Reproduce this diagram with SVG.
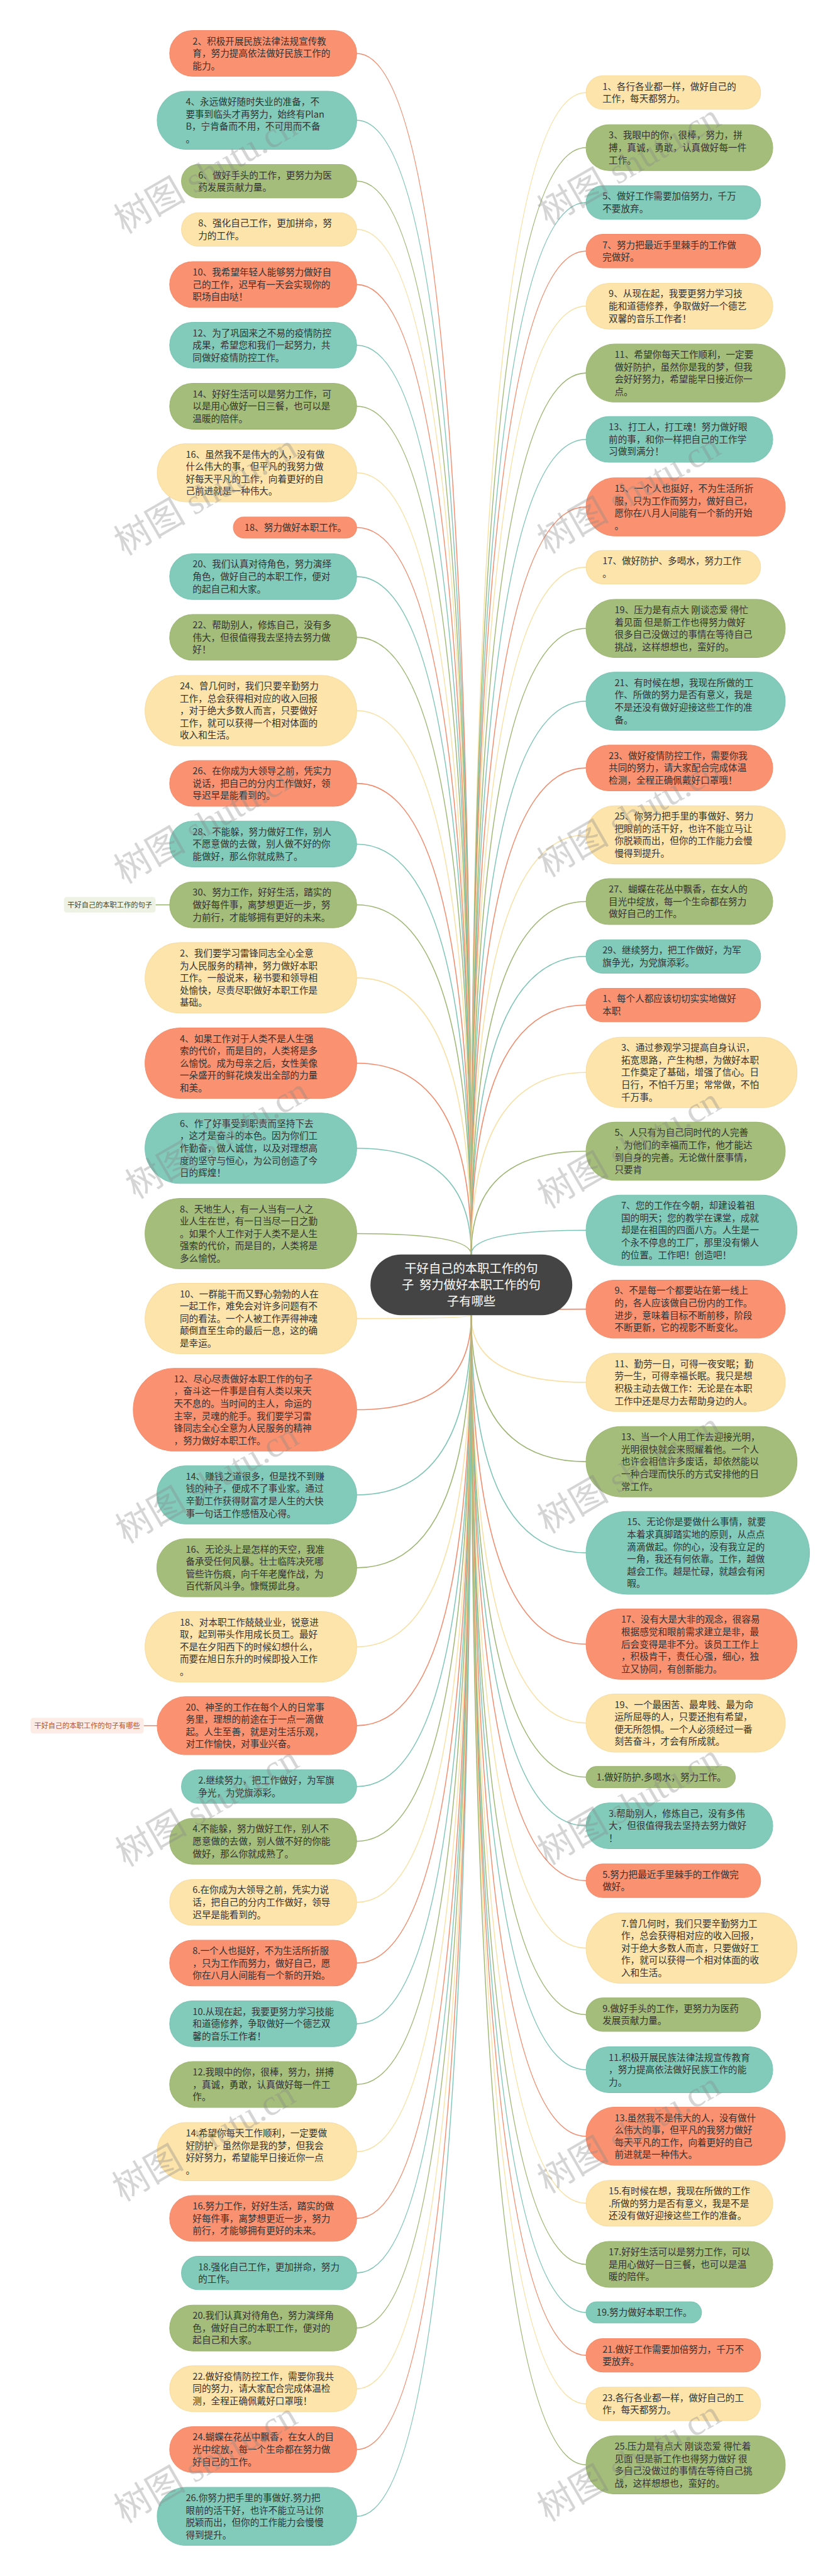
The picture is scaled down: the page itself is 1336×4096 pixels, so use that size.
<svg xmlns="http://www.w3.org/2000/svg" width="1336" height="4096" viewBox="0 0 1336 4096">
<style>
.t{font-family:"Noto Sans CJK SC","Noto Sans",sans-serif;font-size:28px;fill:#333}
.o{fill:#FA9271;stroke:#F3896A;stroke-width:2}
.e{fill:#82CBBB;stroke:#79C3B3;stroke-width:2}
.g{fill:#A5BD7B;stroke:#9CB572;stroke-width:2}
.y{fill:#FDE4AB;stroke:#F8DCA0;stroke-width:2}
#conn path{fill:none;stroke-width:3}
.co{stroke:#F2896A}.ce{stroke:#7CC4B5}.cg{stroke:#9DB672}.cy{stroke:#F9DFA2}
.wm{font-family:"Liberation Serif","Noto Sans CJK SC",serif;font-size:110px;fill:#888;opacity:0.35}
</style>
<rect width="1336" height="4096" fill="#fff"/>
<g transform="scale(0.5219)">
<g id="conn">
<path class="co" d="M1436 3822Q1436 162.75 1087 162.75"/>
<path class="ce" d="M1436 3822Q1436 366.5 1087 366.5"/>
<path class="cg" d="M1436 3822Q1436 552 1087 552"/>
<path class="cy" d="M1436 3822Q1436 699 1087 699"/>
<path class="co" d="M1436 3822Q1436 866.75 1087 866.75"/>
<path class="ce" d="M1436 3822Q1436 1051.75 1087 1051.75"/>
<path class="cg" d="M1436 3822Q1436 1237.75 1087 1237.75"/>
<path class="cy" d="M1436 3822Q1436 1440.5 1087 1440.5"/>
<path class="co" d="M1436 3822Q1436 1607.25 1087 1607.25"/>
<path class="ce" d="M1436 3822Q1436 1756.75 1087 1756.75"/>
<path class="cg" d="M1436 3822Q1436 1941.75 1087 1941.75"/>
<path class="cy" d="M1436 3822Q1436 2165.25 1087 2165.25"/>
<path class="co" d="M1436 3822Q1436 2386.75 1087 2386.75"/>
<path class="ce" d="M1436 3822Q1436 2571.75 1087 2571.75"/>
<path class="cg" d="M1436 3822Q1436 2756.75 1087 2756.75"/>
<path class="cy" d="M1436 3822Q1436 2979.25 1087 2979.25"/>
<path class="co" d="M1436 3822Q1436 3239.25 1087 3239.25"/>
<path class="ce" d="M1436 3822Q1436 3498.25 1087 3498.25"/>
<path class="cg" d="M1436 3822Q1436 3758.25 1087 3758.25"/>
<path class="cy" d="M1436 4007Q1436 4017.25 1087 4017.25"/>
<path class="co" d="M1436 4007Q1436 4295 1087 4295"/>
<path class="ce" d="M1436 4007Q1436 4554.5 1087 4554.5"/>
<path class="cg" d="M1436 4007Q1436 4776.5 1087 4776.5"/>
<path class="cy" d="M1436 4007Q1436 5017.25 1087 5017.25"/>
<path class="co" d="M1436 4007Q1436 5257.5 1087 5257.5"/>
<path class="ce" d="M1436 4007Q1436 5443 1087 5443"/>
<path class="cg" d="M1436 4007Q1436 5609.75 1087 5609.75"/>
<path class="cy" d="M1436 4007Q1436 5795.75 1087 5795.75"/>
<path class="co" d="M1436 4007Q1436 5980.75 1087 5980.75"/>
<path class="ce" d="M1436 4007Q1436 6165.75 1087 6165.75"/>
<path class="cg" d="M1436 4007Q1436 6350.75 1087 6350.75"/>
<path class="cy" d="M1436 4007Q1436 6555.5 1087 6555.5"/>
<path class="co" d="M1436 4007Q1436 6758.75 1087 6758.75"/>
<path class="ce" d="M1436 4007Q1436 6925 1087 6925"/>
<path class="cg" d="M1436 4007Q1436 7092.75 1087 7092.75"/>
<path class="cy" d="M1436 4007Q1436 7277.75 1087 7277.75"/>
<path class="co" d="M1436 4007Q1436 7462.75 1087 7462.75"/>
<path class="ce" d="M1436 4007Q1436 7666.5 1087 7666.5"/>
<path class="cy" d="M1436 3822Q1436 282 1786 282"/>
<path class="cg" d="M1436 3822Q1436 449.75 1786 449.75"/>
<path class="ce" d="M1436 3822Q1436 617 1786 617"/>
<path class="co" d="M1436 3822Q1436 765 1786 765"/>
<path class="cy" d="M1436 3822Q1436 932.75 1786 932.75"/>
<path class="cg" d="M1436 3822Q1436 1136.5 1786 1136.5"/>
<path class="ce" d="M1436 3822Q1436 1338.75 1786 1338.75"/>
<path class="co" d="M1436 3822Q1436 1544.5 1786 1544.5"/>
<path class="cy" d="M1436 3822Q1436 1728 1786 1728"/>
<path class="cg" d="M1436 3822Q1436 1914.5 1786 1914.5"/>
<path class="ce" d="M1436 3822Q1436 2136.5 1786 2136.5"/>
<path class="co" d="M1436 3822Q1436 2339.75 1786 2339.75"/>
<path class="cy" d="M1436 3822Q1436 2543.5 1786 2543.5"/>
<path class="cg" d="M1436 3822Q1436 2746.75 1786 2746.75"/>
<path class="ce" d="M1436 3822Q1436 2914 1786 2914"/>
<path class="co" d="M1436 3822Q1436 3062 1786 3062"/>
<path class="cy" d="M1436 3822Q1436 3267.25 1786 3267.25"/>
<path class="cg" d="M1436 3822Q1436 3507.5 1786 3507.5"/>
<path class="ce" d="M1436 3822Q1436 3748.25 1786 3748.25"/>
<path class="co" d="M1436 4007Q1436 3988.5 1786 3988.5"/>
<path class="cy" d="M1436 4007Q1436 4211.5 1786 4211.5"/>
<path class="cg" d="M1436 4007Q1436 4453.25 1786 4453.25"/>
<path class="ce" d="M1436 4007Q1436 4731 1786 4731"/>
<path class="co" d="M1436 4007Q1436 5009.25 1786 5009.25"/>
<path class="cy" d="M1436 4007Q1436 5249.5 1786 5249.5"/>
<path class="cg" d="M1436 4007Q1436 5414.25 1786 5414.25"/>
<path class="ce" d="M1436 4007Q1436 5562.75 1786 5562.75"/>
<path class="co" d="M1436 4007Q1436 5730 1786 5730"/>
<path class="cy" d="M1436 4007Q1436 5935.25 1786 5935.25"/>
<path class="cg" d="M1436 4007Q1436 6138 1786 6138"/>
<path class="ce" d="M1436 4007Q1436 6305.75 1786 6305.75"/>
<path class="co" d="M1436 4007Q1436 6508.5 1786 6508.5"/>
<path class="cy" d="M1436 4007Q1436 6712.75 1786 6712.75"/>
<path class="cg" d="M1436 4007Q1436 6898.75 1786 6898.75"/>
<path class="ce" d="M1436 4007Q1436 7045.25 1786 7045.25"/>
<path class="co" d="M1436 4007Q1436 7176 1786 7176"/>
<path class="cy" d="M1436 4007Q1436 7324 1786 7324"/>
<path class="cg" d="M1436 4007Q1436 7509.5 1786 7509.5"/>
<path class="cg" d="M474 2756.75H517"/>
<path class="co" d="M438 5257.5H479"/>
</g>

<g id="center">
<rect x="1129" y="3822" width="615" height="185" rx="92.5" fill="#444"/>
<text x="1436" text-anchor="middle" style="font-family:'Noto Sans CJK SC',sans-serif;font-size:37px;fill:#fff"><tspan x="1436" y="3878">干好自己的本职工作的句</tspan><tspan x="1436" y="3928" xml:space="preserve">子  努力做好本职工作的句</tspan><tspan x="1436" y="3978">子有哪些</tspan></text>
</g>

<g id="labelA"><rect x="195" y="2733" width="279" height="47" rx="8" fill="#EEF2E5"/><text x="334.5" y="2764" text-anchor="middle" style="font-family:'Noto Sans CJK SC',sans-serif;font-size:21.5px;fill:#3d4a2a">干好自己的本职工作的句子</text></g>
<g id="labelB"><rect x="93" y="5234" width="345" height="47" rx="8" fill="#FDECE6"/><text x="265.5" y="5265" text-anchor="middle" style="font-family:'Noto Sans CJK SC',sans-serif;font-size:21.5px;fill:#B8532F">干好自己的本职工作的句子有哪些</text></g>

<g id="L1"><rect class="o" x="517" y="93" width="570" height="139.5" rx="69.75"/><text class="t" x="587" y="135.25"><tspan x="587">2、积极开展民族法律法规宣传教</tspan><tspan x="587" dy="37.5">育，努力提高依法做好民族工作的</tspan><tspan x="587" dy="37.5">能力。</tspan></text></g>
<g id="L2"><rect class="e" x="479" y="278" width="608" height="177" rx="88.5"/><text class="t" x="566" y="320.25"><tspan x="566">4、永远做好随时失业的准备，不</tspan><tspan x="566" dy="37.5">要事到临头才再努力，始终有Plan</tspan><tspan x="566" dy="37.5">B，宁肯备而不用，不可用而不备</tspan><tspan x="566" dy="37.5">。</tspan></text></g>
<g id="L3"><rect class="g" x="553" y="501" width="534" height="102" rx="51"/><text class="t" x="604" y="543.25"><tspan x="604">6、做好手头的工作，更努力为医</tspan><tspan x="604" dy="37.5">药发展贡献力量。</tspan></text></g>
<g id="L4"><rect class="y" x="553" y="648" width="534" height="102" rx="51"/><text class="t" x="604" y="690.25"><tspan x="604">8、强化自己工作，更加拼命，努</tspan><tspan x="604" dy="37.5">力的工作。</tspan></text></g>
<g id="L5"><rect class="o" x="517" y="797" width="570" height="139.5" rx="69.75"/><text class="t" x="587" y="839.25"><tspan x="587">10、我希望年轻人能够努力做好自</tspan><tspan x="587" dy="37.5">己的工作，迟早有一天会实现你的</tspan><tspan x="587" dy="37.5">职场自由哒！</tspan></text></g>
<g id="L6"><rect class="e" x="517" y="982" width="570" height="139.5" rx="69.75"/><text class="t" x="587" y="1024.25"><tspan x="587">12、为了巩固来之不易的疫情防控</tspan><tspan x="587" dy="37.5">成果，希望您和我们一起努力，共</tspan><tspan x="587" dy="37.5">同做好疫情防控工作。</tspan></text></g>
<g id="L7"><rect class="g" x="517" y="1168" width="570" height="139.5" rx="69.75"/><text class="t" x="587" y="1210.25"><tspan x="587">14、好好生活可以是努力工作，可</tspan><tspan x="587" dy="37.5">以是用心做好一日三餐，也可以是</tspan><tspan x="587" dy="37.5">温暖的陪伴。</tspan></text></g>
<g id="L8"><rect class="y" x="479" y="1352" width="608" height="177" rx="88.5"/><text class="t" x="566" y="1394.25"><tspan x="566">16、虽然我不是伟大的人，没有做</tspan><tspan x="566" dy="37.5">什么伟大的事，但平凡的我努力做</tspan><tspan x="566" dy="37.5">好每天平凡的工作，向着更好的自</tspan><tspan x="566" dy="37.5">己前进就是一种伟大。</tspan></text></g>
<g id="L9"><rect class="o" x="711" y="1575" width="376" height="64.5" rx="32.25"/><text class="t" x="745" y="1617.25">18、努力做好本职工作。</text></g>
<g id="L10"><rect class="e" x="517" y="1687" width="570" height="139.5" rx="69.75"/><text class="t" x="587" y="1729.25"><tspan x="587">20、我们认真对待角色，努力演绎</tspan><tspan x="587" dy="37.5">角色，做好自己的本职工作，便对</tspan><tspan x="587" dy="37.5">的起自己和大家。</tspan></text></g>
<g id="L11"><rect class="g" x="517" y="1872" width="570" height="139.5" rx="69.75"/><text class="t" x="587" y="1914.25"><tspan x="587">22、帮助别人，修炼自己，没有多</tspan><tspan x="587" dy="37.5">伟大，但很值得我去坚持去努力做</tspan><tspan x="587" dy="37.5">好！</tspan></text></g>
<g id="L12"><rect class="y" x="442" y="2058" width="645" height="214.5" rx="107.25"/><text class="t" x="548" y="2100.25"><tspan x="548">24、曾几何时，我们只要辛勤努力</tspan><tspan x="548" dy="37.5">工作，总会获得相对应的收入回报</tspan><tspan x="548" dy="37.5">，对于绝大多数人而言，只要做好</tspan><tspan x="548" dy="37.5">工作，就可以获得一个相对体面的</tspan><tspan x="548" dy="37.5">收入和生活。</tspan></text></g>
<g id="L13"><rect class="o" x="517" y="2317" width="570" height="139.5" rx="69.75"/><text class="t" x="587" y="2359.25"><tspan x="587">26、在你成为大领导之前，凭实力</tspan><tspan x="587" dy="37.5">说话，把自己的分内工作做好，领</tspan><tspan x="587" dy="37.5">导迟早是能看到的。</tspan></text></g>
<g id="L14"><rect class="e" x="517" y="2502" width="570" height="139.5" rx="69.75"/><text class="t" x="587" y="2544.25"><tspan x="587">28、不能躲，努力做好工作，别人</tspan><tspan x="587" dy="37.5">不愿意做的去做，别人做不好的你</tspan><tspan x="587" dy="37.5">能做好，那么你就成熟了。</tspan></text></g>
<g id="L15"><rect class="g" x="517" y="2687" width="570" height="139.5" rx="69.75"/><text class="t" x="587" y="2729.25"><tspan x="587">30、努力工作，好好生活，踏实的</tspan><tspan x="587" dy="37.5">做好每件事，离梦想更近一步，努</tspan><tspan x="587" dy="37.5">力前行，才能够拥有更好的未来。</tspan></text></g>
<g id="L16"><rect class="y" x="442" y="2872" width="645" height="214.5" rx="107.25"/><text class="t" x="548" y="2914.25"><tspan x="548">2、我们要学习雷锋同志全心全意</tspan><tspan x="548" dy="37.5">为人民服务的精神，努力做好本职</tspan><tspan x="548" dy="37.5">工作。一般说来，秘书要和领导相</tspan><tspan x="548" dy="37.5">处愉快，尽责尽职做好本职工作是</tspan><tspan x="548" dy="37.5">基础。</tspan></text></g>
<g id="L17"><rect class="o" x="442" y="3132" width="645" height="214.5" rx="107.25"/><text class="t" x="548" y="3174.25"><tspan x="548">4、如果工作对于人类不是人生强</tspan><tspan x="548" dy="37.5">索的代价，而是目的，人类将是多</tspan><tspan x="548" dy="37.5">么愉悦。成为母亲之后，女性美像</tspan><tspan x="548" dy="37.5">一朵盛开的鲜花焕发出全部的力量</tspan><tspan x="548" dy="37.5">和美。</tspan></text></g>
<g id="L18"><rect class="e" x="442" y="3391" width="645" height="214.5" rx="107.25"/><text class="t" x="548" y="3433.25"><tspan x="548">6、作了好事受到职责而坚持下去</tspan><tspan x="548" dy="37.5">，这才是奋斗的本色。因为你们工</tspan><tspan x="548" dy="37.5">作勤奋，做人诚信，以及对理想高</tspan><tspan x="548" dy="37.5">度的坚守与恒心，为公司创造了今</tspan><tspan x="548" dy="37.5">日的辉煌！</tspan></text></g>
<g id="L19"><rect class="g" x="442" y="3651" width="645" height="214.5" rx="107.25"/><text class="t" x="548" y="3693.25"><tspan x="548">8、天地生人，有一人当有一人之</tspan><tspan x="548" dy="37.5">业人生在世，有一日当尽一日之勤</tspan><tspan x="548" dy="37.5">。如果个人工作对于人类不是人生</tspan><tspan x="548" dy="37.5">强索的代价，而是目的，人类将是</tspan><tspan x="548" dy="37.5">多么愉悦。</tspan></text></g>
<g id="L20"><rect class="y" x="442" y="3910" width="645" height="214.5" rx="107.25"/><text class="t" x="548" y="3952.25"><tspan x="548">10、一群能干而又野心勃勃的人在</tspan><tspan x="548" dy="37.5">一起工作，难免会对许多问题有不</tspan><tspan x="548" dy="37.5">同的看法。一个人被工作弄得神魂</tspan><tspan x="548" dy="37.5">颠倒直至生命的最后一息，这的确</tspan><tspan x="548" dy="37.5">是幸运。</tspan></text></g>
<g id="L21"><rect class="o" x="406" y="4169" width="681" height="252" rx="126"/><text class="t" x="530" y="4211.25"><tspan x="530">12、尽心尽责做好本职工作的句子</tspan><tspan x="530" dy="37.5">，奋斗这一件事是自有人类以来天</tspan><tspan x="530" dy="37.5">天不息的。当时间的主人，命运的</tspan><tspan x="530" dy="37.5">主宰，灵魂的舵手。我们要学习雷</tspan><tspan x="530" dy="37.5">锋同志全心全意为人民服务的精神</tspan><tspan x="530" dy="37.5">，努力做好本职工作。</tspan></text></g>
<g id="L22"><rect class="e" x="478" y="4466" width="609" height="177" rx="88.5"/><text class="t" x="566" y="4508.25"><tspan x="566">14、赚钱之道很多，但是找不到赚</tspan><tspan x="566" dy="37.5">钱的种子，便成不了事业家。通过</tspan><tspan x="566" dy="37.5">辛勤工作获得财富才是人生的大快</tspan><tspan x="566" dy="37.5">事一句话工作感悟及心得。</tspan></text></g>
<g id="L23"><rect class="g" x="478" y="4688" width="609" height="177" rx="88.5"/><text class="t" x="566" y="4730.25"><tspan x="566">16、无论头上是怎样的天空，我准</tspan><tspan x="566" dy="37.5">备承受任何风暴。壮士临阵决死哪</tspan><tspan x="566" dy="37.5">管些许伤痕，向千年老魔作战，为</tspan><tspan x="566" dy="37.5">百代新风斗争。慷慨掷此身。</tspan></text></g>
<g id="L24"><rect class="y" x="442" y="4910" width="645" height="214.5" rx="107.25"/><text class="t" x="548" y="4952.25"><tspan x="548">18、对本职工作兢兢业业，锐意进</tspan><tspan x="548" dy="37.5">取，起到带头作用成长员工。最好</tspan><tspan x="548" dy="37.5">不是在夕阳西下的时候幻想什么，</tspan><tspan x="548" dy="37.5">而要在旭日东升的时候即投入工作</tspan><tspan x="548" dy="37.5">。</tspan></text></g>
<g id="L25"><rect class="o" x="479" y="5169" width="608" height="177" rx="88.5"/><text class="t" x="566" y="5211.25"><tspan x="566">20、神圣的工作在每个人的日常事</tspan><tspan x="566" dy="37.5">务里，理想的前途在于一点一滴做</tspan><tspan x="566" dy="37.5">起。人生至善，就是对生活乐观，</tspan><tspan x="566" dy="37.5">对工作愉快，对事业兴奋。</tspan></text></g>
<g id="L26"><rect class="e" x="553" y="5392" width="534" height="102" rx="51"/><text class="t" x="604" y="5434.25"><tspan x="604">2.继续努力，把工作做好，为军旗</tspan><tspan x="604" dy="37.5">争光，为党旗添彩。</tspan></text></g>
<g id="L27"><rect class="g" x="517" y="5540" width="570" height="139.5" rx="69.75"/><text class="t" x="587" y="5582.25"><tspan x="587">4.不能躲，努力做好工作，别人不</tspan><tspan x="587" dy="37.5">愿意做的去做，别人做不好的你能</tspan><tspan x="587" dy="37.5">做好，那么你就成熟了。</tspan></text></g>
<g id="L28"><rect class="y" x="517" y="5726" width="570" height="139.5" rx="69.75"/><text class="t" x="587" y="5768.25"><tspan x="587">6.在你成为大领导之前，凭实力说</tspan><tspan x="587" dy="37.5">话，把自己的分内工作做好，领导</tspan><tspan x="587" dy="37.5">迟早是能看到的。</tspan></text></g>
<g id="L29"><rect class="o" x="517" y="5911" width="570" height="139.5" rx="69.75"/><text class="t" x="587" y="5953.25"><tspan x="587">8.一个人也挺好，不为生活所折服</tspan><tspan x="587" dy="37.5">，只为工作而努力，做好自己，愿</tspan><tspan x="587" dy="37.5">你在八月人间能有一个新的开始。</tspan></text></g>
<g id="L30"><rect class="e" x="517" y="6096" width="570" height="139.5" rx="69.75"/><text class="t" x="587" y="6138.25"><tspan x="587">10.从现在起，我要更努力学习技能</tspan><tspan x="587" dy="37.5">和道德修养，争取做好一个德艺双</tspan><tspan x="587" dy="37.5">馨的音乐工作者！</tspan></text></g>
<g id="L31"><rect class="g" x="517" y="6281" width="570" height="139.5" rx="69.75"/><text class="t" x="587" y="6323.25"><tspan x="587">12.我眼中的你，很棒，努力，拼搏</tspan><tspan x="587" dy="37.5">，真诚，勇敢，认真做好每一件工</tspan><tspan x="587" dy="37.5">作。</tspan></text></g>
<g id="L32"><rect class="y" x="479" y="6467" width="608" height="177" rx="88.5"/><text class="t" x="566" y="6509.25"><tspan x="566">14.希望你每天工作顺利，一定要做</tspan><tspan x="566" dy="37.5">好防护，虽然你是我的梦，但我会</tspan><tspan x="566" dy="37.5">好好努力，希望能早日接近你一点</tspan><tspan x="566" dy="37.5">。</tspan></text></g>
<g id="L33"><rect class="o" x="517" y="6689" width="570" height="139.5" rx="69.75"/><text class="t" x="587" y="6731.25"><tspan x="587">16.努力工作，好好生活，踏实的做</tspan><tspan x="587" dy="37.5">好每件事，离梦想更近一步，努力</tspan><tspan x="587" dy="37.5">前行，才能够拥有更好的未来。</tspan></text></g>
<g id="L34"><rect class="e" x="553" y="6874" width="534" height="102" rx="51"/><text class="t" x="604" y="6916.25"><tspan x="604">18.强化自己工作，更加拼命，努力</tspan><tspan x="604" dy="37.5">的工作。</tspan></text></g>
<g id="L35"><rect class="g" x="517" y="7023" width="570" height="139.5" rx="69.75"/><text class="t" x="587" y="7065.25"><tspan x="587">20.我们认真对待角色，努力演绎角</tspan><tspan x="587" dy="37.5">色，做好自己的本职工作，便对的</tspan><tspan x="587" dy="37.5">起自己和大家。</tspan></text></g>
<g id="L36"><rect class="y" x="517" y="7208" width="570" height="139.5" rx="69.75"/><text class="t" x="587" y="7250.25"><tspan x="587">22.做好疫情防控工作，需要你我共</tspan><tspan x="587" dy="37.5">同的努力，请大家配合完成体温检</tspan><tspan x="587" dy="37.5">测，全程正确佩戴好口罩哦！</tspan></text></g>
<g id="L37"><rect class="o" x="517" y="7393" width="570" height="139.5" rx="69.75"/><text class="t" x="587" y="7435.25"><tspan x="587">24.蝴蝶在花丛中飘香，在女人的目</tspan><tspan x="587" dy="37.5">光中绽放，每一个生命都在努力做</tspan><tspan x="587" dy="37.5">好自己的工作。</tspan></text></g>
<g id="L38"><rect class="e" x="479" y="7578" width="608" height="177" rx="88.5"/><text class="t" x="566" y="7620.25"><tspan x="566">26.你努力把手里的事做好.努力把</tspan><tspan x="566" dy="37.5">眼前的活干好，也许不能立马让你</tspan><tspan x="566" dy="37.5">脱颖而出，但你的工作能力会慢慢</tspan><tspan x="566" dy="37.5">得到提升。</tspan></text></g>

<g id="R1"><rect class="y" x="1786" y="231" width="532" height="102" rx="51"/><text class="t" x="1836" y="273.25"><tspan x="1836">1、各行各业都一样，做好自己的</tspan><tspan x="1836" dy="37.5">工作，每天都努力。</tspan></text></g>
<g id="R2"><rect class="g" x="1786" y="380" width="569" height="139.5" rx="69.75"/><text class="t" x="1855" y="422.25"><tspan x="1855">3、我眼中的你，很棒，努力，拼</tspan><tspan x="1855" dy="37.5">搏，真诚，勇敢，认真做好每一件</tspan><tspan x="1855" dy="37.5">工作。</tspan></text></g>
<g id="R3"><rect class="e" x="1786" y="566" width="532" height="102" rx="51"/><text class="t" x="1836" y="608.25"><tspan x="1836">5、做好工作需要加倍努力，千万</tspan><tspan x="1836" dy="37.5">不要放弃。</tspan></text></g>
<g id="R4"><rect class="o" x="1786" y="714" width="532" height="102" rx="51"/><text class="t" x="1836" y="756.25"><tspan x="1836">7、努力把最近手里棘手的工作做</tspan><tspan x="1836" dy="37.5">完做好。</tspan></text></g>
<g id="R5"><rect class="y" x="1786" y="863" width="569" height="139.5" rx="69.75"/><text class="t" x="1855" y="905.25"><tspan x="1855">9、从现在起，我要更努力学习技</tspan><tspan x="1855" dy="37.5">能和道德修养，争取做好一个德艺</tspan><tspan x="1855" dy="37.5">双馨的音乐工作者！</tspan></text></g>
<g id="R6"><rect class="g" x="1786" y="1048" width="607" height="177" rx="88.5"/><text class="t" x="1873" y="1090.25"><tspan x="1873">11、希望你每天工作顺利，一定要</tspan><tspan x="1873" dy="37.5">做好防护，虽然你是我的梦，但我</tspan><tspan x="1873" dy="37.5">会好好努力，希望能早日接近你一</tspan><tspan x="1873" dy="37.5">点。</tspan></text></g>
<g id="R7"><rect class="e" x="1786" y="1269" width="569" height="139.5" rx="69.75"/><text class="t" x="1855" y="1311.25"><tspan x="1855">13、打工人，打工魂！努力做好眼</tspan><tspan x="1855" dy="37.5">前的事，和你一样把自己的工作学</tspan><tspan x="1855" dy="37.5">习做到满分！</tspan></text></g>
<g id="R8"><rect class="o" x="1786" y="1456" width="607" height="177" rx="88.5"/><text class="t" x="1873" y="1498.25"><tspan x="1873">15、一个人也挺好，不为生活所折</tspan><tspan x="1873" dy="37.5">服，只为工作而努力，做好自己，</tspan><tspan x="1873" dy="37.5">愿你在八月人间能有一个新的开始</tspan><tspan x="1873" dy="37.5">。</tspan></text></g>
<g id="R9"><rect class="y" x="1786" y="1677" width="532" height="102" rx="51"/><text class="t" x="1836" y="1719.25"><tspan x="1836">17、做好防护、多喝水，努力工作</tspan><tspan x="1836" dy="37.5">。</tspan></text></g>
<g id="R10"><rect class="g" x="1786" y="1826" width="607" height="177" rx="88.5"/><text class="t" x="1873" y="1868.25"><tspan x="1873">19、压力是有点大 刚谈恋爱 得忙</tspan><tspan x="1873" dy="37.5">着见面 但是新工作也得努力做好</tspan><tspan x="1873" dy="37.5">很多自己没做过的事情在等待自己</tspan><tspan x="1873" dy="37.5">挑战，这样想想也，蛮好的。</tspan></text></g>
<g id="R11"><rect class="e" x="1786" y="2048" width="607" height="177" rx="88.5"/><text class="t" x="1873" y="2090.25"><tspan x="1873">21、有时候在想，我现在所做的工</tspan><tspan x="1873" dy="37.5">作、所做的努力是否有意义，我是</tspan><tspan x="1873" dy="37.5">不是还没有做好迎接这些工作的准</tspan><tspan x="1873" dy="37.5">备。</tspan></text></g>
<g id="R12"><rect class="o" x="1786" y="2270" width="569" height="139.5" rx="69.75"/><text class="t" x="1855" y="2312.25"><tspan x="1855">23、做好疫情防控工作，需要你我</tspan><tspan x="1855" dy="37.5">共同的努力，请大家配合完成体温</tspan><tspan x="1855" dy="37.5">检测，全程正确佩戴好口罩哦！</tspan></text></g>
<g id="R13"><rect class="y" x="1786" y="2455" width="607" height="177" rx="88.5"/><text class="t" x="1873" y="2497.25"><tspan x="1873">25、你努力把手里的事做好、努力</tspan><tspan x="1873" dy="37.5">把眼前的活干好，也许不能立马让</tspan><tspan x="1873" dy="37.5">你脱颖而出，但你的工作能力会慢</tspan><tspan x="1873" dy="37.5">慢得到提升。</tspan></text></g>
<g id="R14"><rect class="g" x="1786" y="2677" width="569" height="139.5" rx="69.75"/><text class="t" x="1855" y="2719.25"><tspan x="1855">27、蝴蝶在花丛中飘香，在女人的</tspan><tspan x="1855" dy="37.5">目光中绽放，每一个生命都在努力</tspan><tspan x="1855" dy="37.5">做好自己的工作。</tspan></text></g>
<g id="R15"><rect class="e" x="1786" y="2863" width="532" height="102" rx="51"/><text class="t" x="1836" y="2905.25"><tspan x="1836">29、继续努力，把工作做好，为军</tspan><tspan x="1836" dy="37.5">旗争光，为党旗添彩。</tspan></text></g>
<g id="R16"><rect class="o" x="1786" y="3011" width="532" height="102" rx="51"/><text class="t" x="1836" y="3053.25"><tspan x="1836">1、每个人都应该切切实实地做好</tspan><tspan x="1836" dy="37.5">本职</tspan></text></g>
<g id="R17"><rect class="y" x="1786" y="3160" width="643" height="214.5" rx="107.25"/><text class="t" x="1893" y="3202.25"><tspan x="1893">3、通过参观学习提高自身认识，</tspan><tspan x="1893" dy="37.5">拓宽思路，产生构想，为做好本职</tspan><tspan x="1893" dy="37.5">工作奠定了基础，增强了信心。日</tspan><tspan x="1893" dy="37.5">日行，不怕千万里；常常做，不怕</tspan><tspan x="1893" dy="37.5">千万事。</tspan></text></g>
<g id="R18"><rect class="g" x="1786" y="3419" width="607" height="177" rx="88.5"/><text class="t" x="1873" y="3461.25"><tspan x="1873">5、人只有为自己同时代的人完善</tspan><tspan x="1873" dy="37.5">，为他们的幸福而工作，他才能达</tspan><tspan x="1873" dy="37.5">到自身的完善。无论做什麼事情，</tspan><tspan x="1873" dy="37.5">只要肯</tspan></text></g>
<g id="R19"><rect class="e" x="1786" y="3641" width="643" height="214.5" rx="107.25"/><text class="t" x="1893" y="3683.25"><tspan x="1893">7、您的工作在今朝，却建设着祖</tspan><tspan x="1893" dy="37.5">国的明天；您的教学在课堂，成就</tspan><tspan x="1893" dy="37.5">却是在祖国的四面八方。人生是一</tspan><tspan x="1893" dy="37.5">个永不停息的工厂，那里没有懒人</tspan><tspan x="1893" dy="37.5">的位置。工作吧！创造吧！</tspan></text></g>
<g id="R20"><rect class="o" x="1786" y="3900" width="607" height="177" rx="88.5"/><text class="t" x="1873" y="3942.25"><tspan x="1873">9、不是每一个都要站在第一线上</tspan><tspan x="1873" dy="37.5">的，各人应该做自己份内的工作。</tspan><tspan x="1873" dy="37.5">进步，意味着目标不断前移，阶段</tspan><tspan x="1873" dy="37.5">不断更新，它的视影不断变化。</tspan></text></g>
<g id="R21"><rect class="y" x="1786" y="4123" width="607" height="177" rx="88.5"/><text class="t" x="1873" y="4165.25"><tspan x="1873">11、勤劳一日，可得一夜安眠；勤</tspan><tspan x="1873" dy="37.5">劳一生，可得幸福长眠。我只是想</tspan><tspan x="1873" dy="37.5">积极主动去做工作：无论是在本职</tspan><tspan x="1873" dy="37.5">工作中还是尽力去帮助身边的人。</tspan></text></g>
<g id="R22"><rect class="g" x="1786" y="4346" width="643" height="214.5" rx="107.25"/><text class="t" x="1893" y="4388.25"><tspan x="1893">13、当一个人用工作去迎接光明，</tspan><tspan x="1893" dy="37.5">光明很快就会来照耀着他。一个人</tspan><tspan x="1893" dy="37.5">也许会相信许多废话，却依然能以</tspan><tspan x="1893" dy="37.5">一种合理而快乐的方式安排他的日</tspan><tspan x="1893" dy="37.5">常工作。</tspan></text></g>
<g id="R23"><rect class="e" x="1786" y="4605" width="681" height="252" rx="126"/><text class="t" x="1911" y="4647.25"><tspan x="1911">15、无论你是要做什么事情，就要</tspan><tspan x="1911" dy="37.5">本着求真脚踏实地的原则，从点点</tspan><tspan x="1911" dy="37.5">滴滴做起。你的心，没有我立足的</tspan><tspan x="1911" dy="37.5">一角，我还有何依靠。工作，越做</tspan><tspan x="1911" dy="37.5">越会工作。越是忙碌，就越会有闲</tspan><tspan x="1911" dy="37.5">暇。</tspan></text></g>
<g id="R24"><rect class="o" x="1786" y="4902" width="643" height="214.5" rx="107.25"/><text class="t" x="1893" y="4944.25"><tspan x="1893">17、没有大是大非的观念，很容易</tspan><tspan x="1893" dy="37.5">根据感觉和眼前需求建立是非，最</tspan><tspan x="1893" dy="37.5">后会变得是非不分。该员工工作上</tspan><tspan x="1893" dy="37.5">，积极肯干，责任心强，细心，独</tspan><tspan x="1893" dy="37.5">立又协同，有创新能力。</tspan></text></g>
<g id="R25"><rect class="y" x="1786" y="5161" width="607" height="177" rx="88.5"/><text class="t" x="1873" y="5203.25"><tspan x="1873">19、一个最困苦、最卑贱、最为命</tspan><tspan x="1873" dy="37.5">运所屈辱的人，只要还抱有希望，</tspan><tspan x="1873" dy="37.5">便无所怨惧。一个人必须经过一番</tspan><tspan x="1873" dy="37.5">刻苦奋斗，才会有所成就。</tspan></text></g>
<g id="R26"><rect class="g" x="1786" y="5382" width="455" height="64.5" rx="32.25"/><text class="t" x="1818" y="5424.25">1.做好防护.多喝水，努力工作。</text></g>
<g id="R27"><rect class="e" x="1786" y="5493" width="569" height="139.5" rx="69.75"/><text class="t" x="1855" y="5535.25"><tspan x="1855">3.帮助别人，修炼自己，没有多伟</tspan><tspan x="1855" dy="37.5">大，但很值得我去坚持去努力做好</tspan><tspan x="1855" dy="37.5">！</tspan></text></g>
<g id="R28"><rect class="o" x="1786" y="5679" width="532" height="102" rx="51"/><text class="t" x="1836" y="5721.25"><tspan x="1836">5.努力把最近手里棘手的工作做完</tspan><tspan x="1836" dy="37.5">做好。</tspan></text></g>
<g id="R29"><rect class="y" x="1786" y="5828" width="643" height="214.5" rx="107.25"/><text class="t" x="1893" y="5870.25"><tspan x="1893">7.曾几何时，我们只要辛勤努力工</tspan><tspan x="1893" dy="37.5">作，总会获得相对应的收入回报，</tspan><tspan x="1893" dy="37.5">对于绝大多数人而言，只要做好工</tspan><tspan x="1893" dy="37.5">作，就可以获得一个相对体面的收</tspan><tspan x="1893" dy="37.5">入和生活。</tspan></text></g>
<g id="R30"><rect class="g" x="1786" y="6087" width="532" height="102" rx="51"/><text class="t" x="1836" y="6129.25"><tspan x="1836">9.做好手头的工作，更努力为医药</tspan><tspan x="1836" dy="37.5">发展贡献力量。</tspan></text></g>
<g id="R31"><rect class="e" x="1786" y="6236" width="569" height="139.5" rx="69.75"/><text class="t" x="1855" y="6278.25"><tspan x="1855">11.积极开展民族法律法规宣传教育</tspan><tspan x="1855" dy="37.5">，努力提高依法做好民族工作的能</tspan><tspan x="1855" dy="37.5">力。</tspan></text></g>
<g id="R32"><rect class="o" x="1786" y="6420" width="607" height="177" rx="88.5"/><text class="t" x="1873" y="6462.25"><tspan x="1873">13.虽然我不是伟大的人，没有做什</tspan><tspan x="1873" dy="37.5">么伟大的事，但平凡的我努力做好</tspan><tspan x="1873" dy="37.5">每天平凡的工作，向着更好的自己</tspan><tspan x="1873" dy="37.5">前进就是一种伟大。</tspan></text></g>
<g id="R33"><rect class="y" x="1786" y="6643" width="569" height="139.5" rx="69.75"/><text class="t" x="1855" y="6685.25"><tspan x="1855">15.有时候在想，我现在所做的工作</tspan><tspan x="1855" dy="37.5">.所做的努力是否有意义，我是不是</tspan><tspan x="1855" dy="37.5">还没有做好迎接这些工作的准备。</tspan></text></g>
<g id="R34"><rect class="g" x="1786" y="6829" width="569" height="139.5" rx="69.75"/><text class="t" x="1855" y="6871.25"><tspan x="1855">17.好好生活可以是努力工作，可以</tspan><tspan x="1855" dy="37.5">是用心做好一日三餐，也可以是温</tspan><tspan x="1855" dy="37.5">暖的陪伴。</tspan></text></g>
<g id="R35"><rect class="e" x="1786" y="7013" width="352" height="64.5" rx="32.25"/><text class="t" x="1818" y="7055.25">19.努力做好本职工作。</text></g>
<g id="R36"><rect class="o" x="1786" y="7125" width="532" height="102" rx="51"/><text class="t" x="1836" y="7167.25"><tspan x="1836">21.做好工作需要加倍努力，千万不</tspan><tspan x="1836" dy="37.5">要放弃。</tspan></text></g>
<g id="R37"><rect class="y" x="1786" y="7273" width="532" height="102" rx="51"/><text class="t" x="1836" y="7315.25"><tspan x="1836">23.各行各业都一样，做好自己的工</tspan><tspan x="1836" dy="37.5">作，每天都努力。</tspan></text></g>
<g id="R38"><rect class="g" x="1786" y="7421" width="607" height="177" rx="88.5"/><text class="t" x="1873" y="7463.25"><tspan x="1873">25.压力是有点大 刚谈恋爱 得忙着</tspan><tspan x="1873" dy="37.5">见面 但是新工作也得努力做好 很</tspan><tspan x="1873" dy="37.5">多自己没做过的事情在等待自己挑</tspan><tspan x="1873" dy="37.5">战，这样想想也，蛮好的。</tspan></text></g>

<g id="watermarks" text-anchor="middle">
<text class="wm" transform="translate(645 560) rotate(-30)">树图 shutu.cn</text>
<text class="wm" transform="translate(645 1540) rotate(-30)">树图 shutu.cn</text>
<text class="wm" transform="translate(645 2540) rotate(-30)">树图 shutu.cn</text>
<text class="wm" transform="translate(680 3500) rotate(-30)">树图 shutu.cn</text>
<text class="wm" transform="translate(650 4550) rotate(-30)">树图 shutu.cn</text>
<text class="wm" transform="translate(650 5535) rotate(-30)">树图 shutu.cn</text>
<text class="wm" transform="translate(640 6555) rotate(-30)">树图 shutu.cn</text>
<text class="wm" transform="translate(645 7535) rotate(-30)">树图 shutu.cn</text>
<text class="wm" transform="translate(1935 533) rotate(-30)">树图 shutu.cn</text>
<text class="wm" transform="translate(1935 1535) rotate(-30)">树图 shutu.cn</text>
<text class="wm" transform="translate(1935 2520) rotate(-30)">树图 shutu.cn</text>
<text class="wm" transform="translate(1935 3530) rotate(-30)">树图 shutu.cn</text>
<text class="wm" transform="translate(1935 4520) rotate(-30)">树图 shutu.cn</text>
<text class="wm" transform="translate(1935 5530) rotate(-30)">树图 shutu.cn</text>
<text class="wm" transform="translate(1935 6530) rotate(-30)">树图 shutu.cn</text>
<text class="wm" transform="translate(1935 7530) rotate(-30)">树图 shutu.cn</text>
</g>
</g>
</svg>
